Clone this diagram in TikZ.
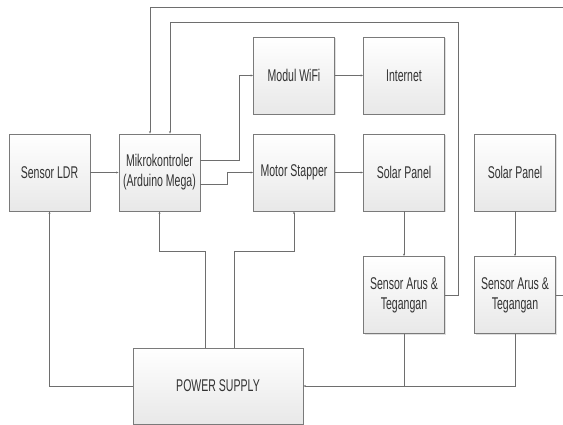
\documentclass[tikz,border=0pt]{standalone}
\usepackage{fontspec}
\setmainfont{Liberation Sans}[FakeStretch=0.62]
\usetikzlibrary{arrows.meta,shadows}
\definecolor{linegray}{HTML}{6E6E6E}
\definecolor{boxgray}{HTML}{7A7A7A}
\definecolor{txtgray}{HTML}{333333}
\begin{document}
\begin{tikzpicture}[x=1pt,y=-1pt,
        block/.style={draw=boxgray, line width=0.8pt, top color=white, bottom color=gray!18,
            minimum width=81pt, minimum height=77pt, inner sep=0pt, align=center,
            text=txtgray, font=\fontsize{17}{20}\selectfont,
            drop shadow={opacity=0.25, shadow xshift=1pt, shadow yshift=-1pt}},
        wire/.style={draw=linegray, line width=0.7pt},
        feed/.style={wire, -{Stealth[length=2.5pt,width=2pt]}}]
    \useasboundingbox (0,0) rectangle (563,425);
    \node[block] (ldr) at (49.5,172.5) {Sensor LDR};
    \node[block] (mcu) at (159.5,172.5) {Mikrokontroler\\(Arduino Mega)};
    \node[block] (wifi) at (294,75.5) {Modul WiFi};
    \node[block] (motor) at (294,172.5) {Motor Stapper};
    \node[block] (inet) at (404,75.5) {Internet};
    \node[block] (panelA) at (404,172.5) {Solar Panel};
    \node[block] (panelB) at (515,172.5) {Solar Panel};
    \node[block] (sensA) at (404,295) {Sensor Arus \&\\Tegangan};
    \node[block] (sensB) at (515,295) {Sensor Arus \&\\Tegangan};
    \node[block, minimum width=170pt, minimum height=76pt] (psu) at (218,386) {POWER SUPPLY};
    \coordinate (loopin) at (458,22);
    \coordinate (loopout) at (566,7);
    % data lines
    \draw[feed] (ldr.east) -- (mcu.west);
    \draw[feed] ([yshift=12pt]mcu.east) -- ++(39,0) |- (wifi.west);
    \draw[feed] ([yshift=-12pt]mcu.east) -- ++(27,0) |- (motor.west);
    \draw[feed] (wifi.east) -- (inet.west);
    \draw[feed] (motor.east) -- (panelA.west);
    \draw[feed] (panelA.south) -- (sensA.north);
    \draw[feed] (panelB.south) -- (sensB.north);
    \draw[feed] (sensA.east) -| (loopin) -| ([xshift=10.5pt]mcu.north);
    \draw[feed] (sensB.east) -| (loopout) -| ([xshift=-9.5pt]mcu.north);
    % power lines
    \draw[feed] (sensA.south) |- (psu.east);
    \draw[wire] (sensB.south) |- (sensA.south |- psu.east);
    \draw[feed] (psu.west) -| (ldr.south);
    \draw[feed] ([xshift=-13pt]psu.north) -- ++(0,-96) -| (mcu.south);
    \draw[feed] ([xshift=16pt]psu.north) -- ++(0,-96) -| (motor.south);
\end{tikzpicture}
\end{document}
